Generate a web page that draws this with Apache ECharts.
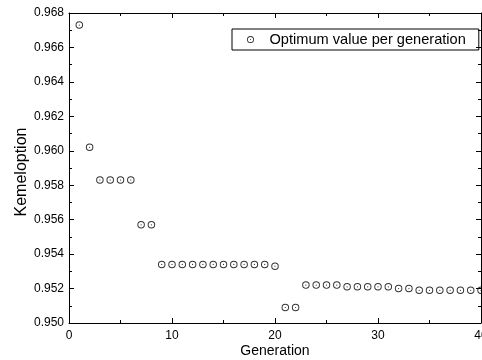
<!DOCTYPE html>
<html>
<head>
<meta charset="utf-8">
<script src="https://cdn.jsdelivr.net/npm/echarts@6/dist/echarts.min.js"></script>
<style>
  html, body { margin: 0; padding: 0; background: #fff; }
  #chart { width: 482px; height: 360px; }
</style>
</head>
<body>
<div id="chart"></div>
<script>
// data
var generations = [];
for (var g = 1; g <= 40; g++) generations.push(g);
var optimum = [
  0.9673, 0.9602, 0.9583, 0.9583, 0.9583, 0.9583, 0.9557, 0.9557,
  0.9534, 0.9534, 0.9534, 0.9534, 0.9534, 0.9534, 0.9534, 0.9534,
  0.9534, 0.9534, 0.9534, 0.9533, 0.9509, 0.9509, 0.9522, 0.9522,
  0.9522, 0.9522, 0.9521, 0.9521, 0.9521, 0.9521, 0.9521, 0.9520,
  0.9520, 0.9519, 0.9519, 0.9519, 0.9519, 0.9519, 0.9519, 0.9519
];
var seriesName = 'Optimum value per generation';

var points = generations.map(function (x, i) { return [x, optimum[i]]; });

// hollow circle with a dot in the middle
var ringDot = 'path://M0,10 A10,10 0 1,1 20,10 A10,10 0 1,1 0,10 Z ' +
  'M2.6,10 A7.4,7.4 0 1,0 17.4,10 A7.4,7.4 0 1,0 2.6,10 Z ' +
  'M8.4,10 A1.6,1.6 0 1,1 11.6,10 A1.6,1.6 0 1,1 8.4,10 Z';

var font = 'Liberation Sans, Arial, sans-serif';
var tickStyle = { show: true, inside: true, length: 5, lineStyle: { color: '#000', width: 1 } };
var minorStyle = { show: true, splitNumber: 2, length: 3, lineStyle: { color: '#000', width: 1 } };

var chart = echarts.init(document.getElementById('chart'), null, { renderer: 'canvas' });
chart.setOption({
  animation: false,
  backgroundColor: '#fff',
  textStyle: { fontFamily: font, color: '#000' },
  grid: { left: 69, top: 13, right: 1, bottom: 37, containLabel: false, outerBoundsMode: 'none' },
  legend: {
    data: [seriesName],
    left: 232, top: 29,
    padding: [3, 13, 3, 15],
    borderColor: '#000', borderWidth: 1,
    itemWidth: 28, itemHeight: 7,
    textStyle: { fontFamily: font, fontSize: 14.6, color: '#000' }
  },
  xAxis: [{
    type: 'value', min: 0, max: 40, interval: 10,
    name: 'Generation', nameLocation: 'middle', nameGap: 21, nameMoveOverlap: false,
    nameTextStyle: { fontFamily: font, fontSize: 14, color: '#000' },
    axisLine: { onZero: false, lineStyle: { color: '#000', width: 1 } },
    axisTick: tickStyle, minorTick: minorStyle,
    axisLabel: { fontFamily: font, fontSize: 12, color: '#000', margin: 7 },
    splitLine: { show: false }
  }, {
    type: 'value', min: 0, max: 40, interval: 10, position: 'top',
    axisLine: { onZero: false, lineStyle: { color: '#000', width: 1 } },
    axisTick: tickStyle, minorTick: minorStyle,
    axisLabel: { show: false }, splitLine: { show: false }
  }],
  yAxis: [{
    type: 'value', min: 0.950, max: 0.968, interval: 0.002,
    name: 'Kemeloption', nameLocation: 'middle', nameGap: 39, nameMoveOverlap: false,
    nameTextStyle: { fontFamily: font, fontSize: 16, color: '#000', padding: [0, 8, 0, 0] },
    axisLine: { onZero: false, lineStyle: { color: '#000', width: 1 } },
    axisTick: tickStyle, minorTick: minorStyle,
    axisLabel: {
      fontFamily: font, fontSize: 12, color: '#000', margin: 5,
      formatter: function (v) { return v.toFixed(3); }
    },
    splitLine: { show: false }
  }, {
    type: 'value', min: 0.950, max: 0.968, interval: 0.002, position: 'right',
    axisLine: { onZero: false, lineStyle: { color: '#000', width: 1 } },
    axisTick: tickStyle, minorTick: minorStyle,
    axisLabel: { show: false }, splitLine: { show: false }
  }],
  series: [{
    name: seriesName,
    type: 'scatter',
    data: points,
    symbol: ringDot,
    symbolSize: 7.5,
    symbolKeepAspect: true,
    itemStyle: { color: '#000' }
  }]
});
</script>
</body>
</html>
